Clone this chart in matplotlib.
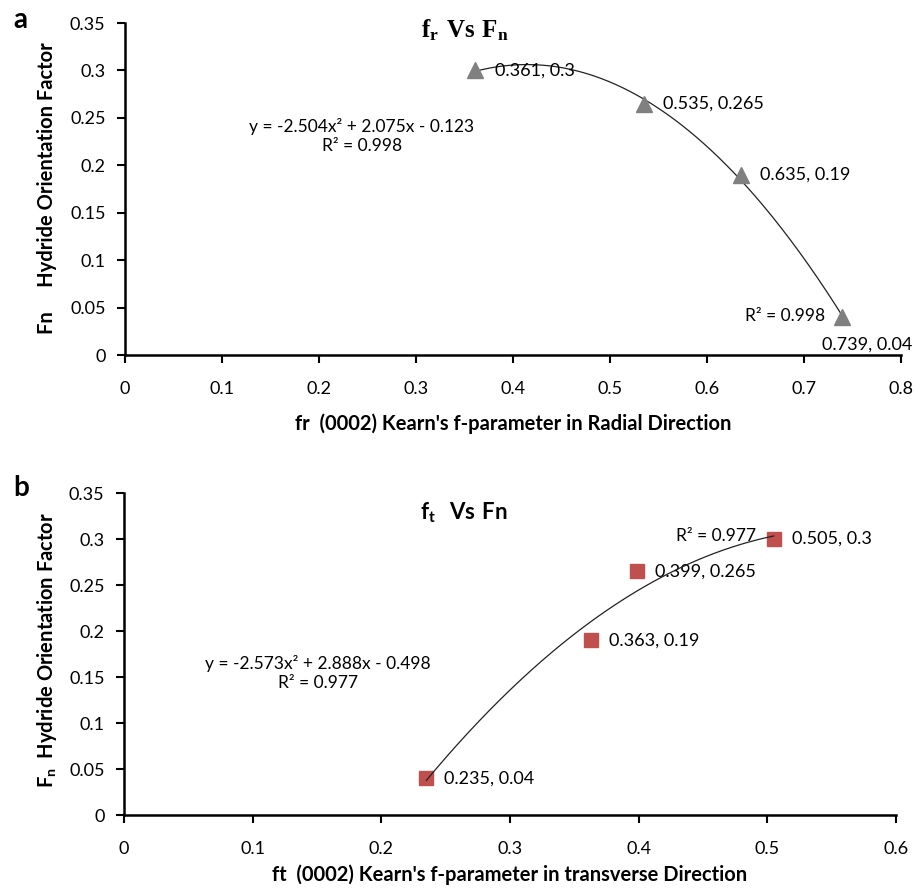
import numpy as np
import matplotlib
matplotlib.use("Agg")
import matplotlib.pyplot as plt
from matplotlib.ticker import FuncFormatter

plt.rcParams['font.family'] = ['Lato', 'DejaVu Sans']
plt.rcParams['mathtext.fontset'] = 'custom'
plt.rcParams['mathtext.bf'] = 'Liberation Serif:bold'
plt.rcParams['mathtext.sf'] = 'Lato:bold'
plt.rcParams['mathtext.rm'] = 'Lato'

# ---- data ----
fr_x = [0.361, 0.535, 0.635, 0.739]
fr_y = [0.3, 0.265, 0.19, 0.04]
ft_x = [0.235, 0.363, 0.399, 0.505]
ft_y = [0.04, 0.19, 0.265, 0.3]

eq_a = "y = -2.504x\u00b2 + 2.075x - 0.123\nR\u00b2 = 0.998"
r2_a = "R\u00b2 = 0.998"
eq_b = "y = -2.573x\u00b2 + 2.888x - 0.498\nR\u00b2 = 0.977"
r2_b = "R\u00b2 = 0.977"

xticks_a = [0, 0.1, 0.2, 0.3, 0.4, 0.5, 0.6, 0.7, 0.8]
xticks_b = [0, 0.1, 0.2, 0.3, 0.4, 0.5, 0.6]
yticks = [0, 0.05, 0.1, 0.15, 0.2, 0.25, 0.3, 0.35]

W, H = 914, 889
fig = plt.figure(figsize=(W / 100, H / 100), dpi=100)


def px_axes(l, t, r, b):
    return fig.add_axes([l / W, 1 - b / H, (r - l) / W, (b - t) / H])


fmt = FuncFormatter(lambda v, p: '%g' % round(v, 4))


def style(ax, xt, xmax):
    ax.set_xlim(0, xmax)
    ax.set_ylim(0, 0.35)
    ax.set_xticks(xt)
    ax.set_yticks(yticks)
    ax.xaxis.set_major_formatter(fmt)
    ax.yaxis.set_major_formatter(fmt)
    for s in ['top', 'right']:
        ax.spines[s].set_visible(False)
    for s in ['left', 'bottom']:
        ax.spines[s].set_linewidth(1.8)
    ax.tick_params(axis='x', length=6, width=1.5, pad=13, labelsize=13)
    ax.tick_params(axis='y', length=6, width=1.5, pad=8, labelsize=13)


# ---------- panel a ----------
axa = px_axes(125, 23, 901, 355)
style(axa, xticks_a, 0.8)
ca = np.polyfit(fr_x, fr_y, 2)
xx = np.linspace(min(fr_x), max(fr_x), 200)
axa.plot(xx, np.polyval(ca, xx), color='#222222', lw=0.9, zorder=2)
axa.plot(fr_x, fr_y, linestyle='none', marker='^', ms=11, color='#808080',
         markeredgecolor='#808080', zorder=3, clip_on=False)
for x, y in zip(fr_x[:-1], fr_y[:-1]):
    axa.annotate(f"{x}, {y}", (x, y), xytext=(14, 0), textcoords='offset points',
                 ha='left', va='center', fontsize=13)
axa.annotate(f"{fr_x[-1]}, {fr_y[-1]}", (fr_x[-1], fr_y[-1]), xytext=(-14, -20),
             textcoords='offset points', ha='left', va='center', fontsize=13,
             annotation_clip=False)
axa.annotate(r2_a, (fr_x[-1], fr_y[-1]), xytext=(-12, 1), textcoords='offset points',
             ha='right', va='center', fontsize=12.5)
fig.text(362 / W, 1 - 136 / H, eq_a, ha='center', va='center', fontsize=12.5,
         linespacing=1.2)
fig.text(465 / W, 1 - 30 / H, r'$\mathbf{f_r\ Vs\ F_n}$', ha='center', va='center',
         fontsize=18)
axa.set_xlabel("fr  (0002) Kearn's f-parameter in Radial Direction",
               fontsize=14.5, fontweight='bold')
axa.xaxis.set_label_coords(0.5, -0.175)
fig.text(47 / W, 1 - 188 / H, "Fn     Hydride Orientation Factor", rotation=90,
         ha='center', va='center', fontsize=14.5, fontweight='bold')
fig.text(20 / W, 1 - 20 / H, "a", ha='center', va='center', fontsize=20,
         fontweight='bold')

# ---------- panel b ----------
axb = px_axes(124, 493, 896, 815)
style(axb, xticks_b, 0.6)
cb = np.polyfit(ft_x, ft_y, 2)
xx = np.linspace(min(ft_x), max(ft_x), 200)
axb.plot(xx, np.polyval(cb, xx), color='#222222', lw=0.9, zorder=4)
axb.plot(ft_x, ft_y, linestyle='none', marker='s', ms=10.5, color='#C0504D',
         markeredgecolor='#C0504D', zorder=3)
for x, y in zip(ft_x, ft_y):
    axb.annotate(f"{x}, {y}", (x, y), xytext=(13, 0), textcoords='offset points',
                 ha='left', va='center', fontsize=13)
axb.annotate(r2_b, (ft_x[-1], ft_y[-1]), xytext=(-13, 2), textcoords='offset points',
             ha='right', va='center', fontsize=12.5)
fig.text(318 / W, 1 - 673 / H, eq_b, ha='center', va='center', fontsize=12.5,
         linespacing=1.2)
fig.text(464 / W, 1 - 513 / H, r'$\mathsf{f_t\ \ Vs\ Fn}$', ha='center', va='center',
         fontsize=16)
axb.set_xlabel("ft  (0002) Kearn's f-parameter in transverse Direction",
               fontsize=14.5, fontweight='bold')
axb.xaxis.set_label_coords(0.5, -0.155)
fig.text(47 / W, 1 - 650 / H, r"$\mathsf{F_n}$  Hydride Orientation Factor",
         rotation=90, ha='center', va='center', fontsize=14.5, fontweight='bold')
fig.text(21 / W, 1 - 488 / H, "b", ha='center', va='center', fontsize=20,
         fontweight='bold')

fig.savefig("out.png", dpi=100)
